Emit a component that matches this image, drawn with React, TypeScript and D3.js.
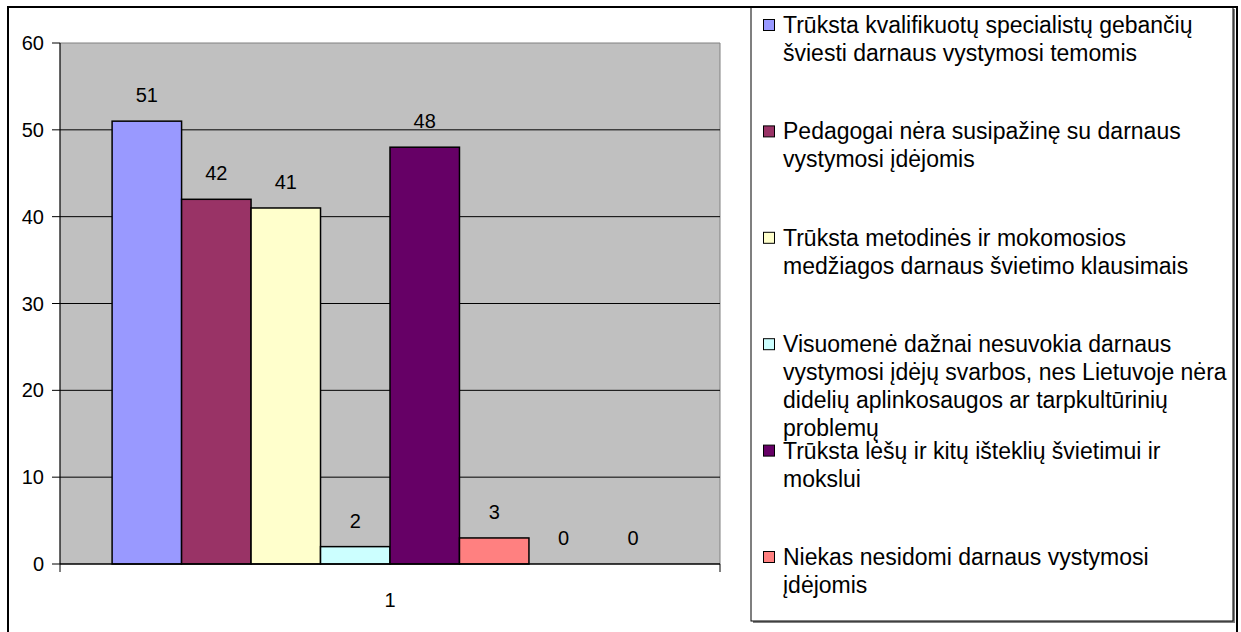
import React from "react";
import * as d3 from "d3";

const categories = ["1"];
const values = [51, 42, 41, 2, 48, 3, 0, 0];
const seriesColors = ["#9999FF", "#993366", "#FFFFCC", "#CCFFFF", "#660066", "#FF8080", "#0066CC", "#CCCCFF"];
const legendLabels = [
  "Trūksta kvalifikuotų specialistų gebančių\nšviesti darnaus vystymosi temomis",
  "Pedagogai nėra susipažinę su darnaus\nvystymosi įdėjomis",
  "Trūksta metodinės ir mokomosios\nmedžiagos darnaus švietimo klausimais",
  "Visuomenė dažnai nesuvokia darnaus\nvystymosi įdėjų svarbos, nes Lietuvoje nėra\ndidelių aplinkosaugos ar tarpkultūrinių\nproblemų",
  "Trūksta lėšų ir kitų išteklių švietimui ir\nmokslui",
  "Niekas nesidomi darnaus vystymosi\nįdėjomis",
];
const yTicks = [0, 10, 20, 30, 40, 50, 60];

const W = 1241;
const H = 632;
const FONT = "'Liberation Sans', Arial, sans-serif";
const FS = 20;

export default function App() {
  const plot = { left: 60, right: 720, top: 43, bottom: 564 };
  const x0 = d3.scaleBand<string>().domain(categories).range([plot.left, plot.right]).padding(0);
  const x1 = d3
    .scaleBand<number>()
    .domain(values.map((_, i) => i))
    .range([0, x0.bandwidth()])
    .paddingInner(0)
    .paddingOuter(0.75);
  const y = d3.scaleLinear().domain([0, 60]).range([plot.bottom, plot.top]);

  const legend = { left: 751, top: 7, right: 1233, bottom: 621 };
  const entryStep = 106.4;
  const lineStep = 28;

  return (
    <div style={{ position: "fixed", left: 0, top: 0, width: W, height: H, background: "#fff" }}>
      <svg width={W} height={H} style={{ display: "block", fontFamily: FONT }}>
        <rect x={0} y={0} width={W} height={H} fill="#fff" />
        {/* plot area */}
        <rect x={plot.left} y={plot.top} width={plot.right - plot.left} height={plot.bottom - plot.top} fill="#C0C0C0" />
        <path
          d={`M${plot.left},${plot.top}H${plot.right}V${plot.bottom}`}
          fill="none"
          stroke="#808080"
          strokeWidth={1}
        />
        {/* gridlines */}
        {yTicks
          .filter((t) => t > 0 && t < 60)
          .map((t) => (
            <line key={t} x1={plot.left} x2={plot.right} y1={y(t)} y2={y(t)} stroke="#000" strokeWidth={1} />
          ))}
        {/* bars */}
        {categories.map((c) =>
          values.map((v, i) => {
            const bx = (x0(c) as number) + (x1(i) as number);
            return (
              <g key={`${c}-${i}`}>
                {v > 0 && (
                  <rect
                    x={bx}
                    y={y(v)}
                    width={x1.bandwidth()}
                    height={y(0) - y(v)}
                    fill={seriesColors[i]}
                    stroke="#000"
                    strokeWidth={1.5}
                  />
                )}
                <text
                  x={bx + x1.bandwidth() / 2}
                  y={y(v) - 19}
                  textAnchor="middle"
                  fontSize={FS}
                  fill="#000"
                >
                  {v}
                </text>
              </g>
            );
          })
        )}
        {/* y axis */}
        <line x1={plot.left} x2={plot.left} y1={plot.top} y2={plot.bottom} stroke="#000" strokeWidth={1.2} />
        {yTicks.map((t) => (
          <g key={t}>
            <line x1={plot.left - 8} x2={plot.left} y1={y(t)} y2={y(t)} stroke="#000" strokeWidth={1} />
            <text x={plot.left - 16} y={y(t) + 7} textAnchor="end" fontSize={FS} fill="#000">
              {t}
            </text>
          </g>
        ))}
        {/* x axis */}
        <line x1={plot.left} x2={plot.right} y1={plot.bottom} y2={plot.bottom} stroke="#000" strokeWidth={1.5} />
        {[plot.left, plot.right].map((xx) => (
          <line key={xx} x1={xx} x2={xx} y1={plot.bottom} y2={plot.bottom + 8} stroke="#000" strokeWidth={1} />
        ))}
        {categories.map((c) => (
          <text key={c} x={(x0(c) as number) + x0.bandwidth() / 2} y={607} textAnchor="middle" fontSize={FS} fill="#000">
            {c}
          </text>
        ))}
        {/* legend */}
        <rect
          x={legend.left + 2}
          y={legend.top + 2}
          width={legend.right - legend.left}
          height={legend.bottom - legend.top}
          fill="#808080"
        />
        <rect
          x={legend.left}
          y={legend.top}
          width={legend.right - legend.left}
          height={legend.bottom - legend.top}
          fill="#fff"
          stroke="#000"
          strokeWidth={1}
        />
        {legendLabels.map((label, i) => {
          const cy = 25 + i * entryStep;
          return (
            <g key={i}>
              <rect x={763.5} y={cy - 5.5} width={11} height={11} fill={seriesColors[i]} stroke="#000" strokeWidth={1} />
              <text x={783} y={cy + 8} fontSize={23} fill="#000">
                {label.split("\n").map((ln, k) => (
                  <tspan key={k} x={783} y={cy + 8 + k * lineStep}>
                    {ln}
                  </tspan>
                ))}
              </text>
            </g>
          );
        })}
        {/* chart outer border */}
        <rect x={8} y={7} width={1229} height={640} fill="none" stroke="#000" strokeWidth={2} />
      </svg>
    </div>
  );
}
